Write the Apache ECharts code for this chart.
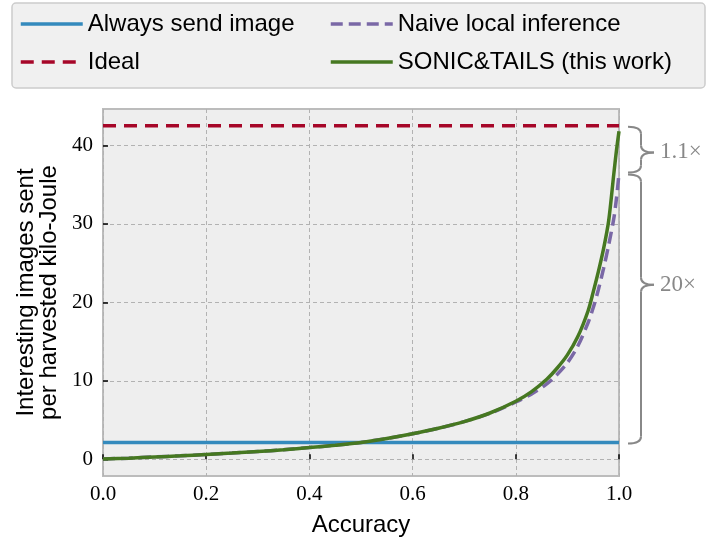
<!DOCTYPE html>
<html>
<head>
<meta charset="utf-8">
<script src="https://cdn.jsdelivr.net/npm/echarts@6/dist/echarts.min.js"></script>
<style>
  html, body { margin: 0; padding: 0; background: #ffffff; }
  #main { width: 710px; height: 543px; }
</style>
</head>
<body>
<div id="main"></div>
<script>
var accuracy = [0, 0.05, 0.1, 0.15, 0.2, 0.25, 0.3, 0.35, 0.4, 0.45, 0.5, 0.55, 0.6, 0.65, 0.7, 0.75, 0.8,
                0.83, 0.86, 0.88, 0.9, 0.92, 0.94, 0.95, 0.96, 0.97, 0.98, 0.99, 0.995, 1.0];
var sonicTails = [0.05, 0.15, 0.3, 0.45, 0.62, 0.8, 1.0, 1.22, 1.5, 1.8, 2.15, 2.65, 3.25, 3.95, 4.8, 5.9, 7.4,
                  8.6, 10.2, 11.6, 13.3, 15.6, 18.9, 21.3, 23.9, 26.8, 30.4, 36.4, 39.3, 41.8];
var naiveLocal = [0.05, 0.15, 0.3, 0.45, 0.62, 0.8, 1.0, 1.22, 1.5, 1.8, 2.15, 2.65, 3.25, 3.95, 4.8, 5.85, 7.3,
                  8.3, 9.6, 10.8, 12.3, 14.4, 17.4, 19.3, 21.6, 24.3, 27.3, 30.7, 33.2, 36.4];
var alwaysSend = 2.13;   // images / kJ, flat
var ideal = 42.5;        // images / kJ, flat
var yTicks = [0, 10, 20, 30, 40];
var xTicks = [0, 0.2, 0.4, 0.6, 0.8, 1.0];

var sansFont = 'Liberation Sans';
var serifFont = 'Liberation Serif';

function pairs(xs, ys) {
	var out = [];
	for (var i = 0; i < xs.length; i++) {
		out.push([xs[i], ys[i]]);
	}
	return out;
}
function flat(v) {
	return [[xTicks[0], v], [xTicks[xTicks.length - 1], v]];
}

var myChart = echarts.init(document.getElementById('main'));

var legendBase = {
	orient: 'vertical',
	top: 7,
	itemWidth: 62, itemHeight: 14, itemGap: 14,
	z: 5,
	itemStyle: { opacity: 0 },
	lineStyle: { width: 3.5 },
	textStyle: { fontFamily: sansFont, fontSize: 24, color: '#000', lineHeight: 24 }
};

var option = {
	animation: false,
	backgroundColor: '#ffffff',
	grid: {
		left: 103, right: 91, top: 109, bottom: 67,
		show: true,
		backgroundColor: '#eeeeee',
		borderColor: '#bcbcbc',
		borderWidth: 2
	},
	legend: [
		Object.assign({ data: ['Always send image', 'Ideal'], left: 14 }, legendBase),
		Object.assign({ data: ['Naive local inference', 'SONIC&TAILS (this work)'], left: 324 }, legendBase)
	],
	xAxis: {
		type: 'value',
		min: 0, max: 1, interval: 0.2,
		name: 'Accuracy',
		nameLocation: 'middle',
		nameGap: 37,
		nameTextStyle: { fontFamily: sansFont, fontSize: 24, color: '#000' },
		axisLine: { show: false },
		axisTick: { show: true, inside: true, length: 5, lineStyle: { color: '#000', width: 1.5 } },
		axisLabel: {
			fontFamily: serifFont, fontSize: 21, color: '#000', margin: 8,
			formatter: function (v) { return v.toFixed(1); }
		},
		splitLine: { show: true, lineStyle: { color: '#b2b2b2', type: [4, 3], width: 1 } }
	},
	yAxis: {
		type: 'value',
		min: -2.125, max: 44.625,
		name: 'Interesting images sent\nper harvested kilo-Joule',
		nameLocation: 'middle',
		nameRotate: 90,
		nameGap: 35,
		nameTextStyle: { fontFamily: sansFont, fontSize: 24, color: '#000', lineHeight: 23 },
		axisLine: { show: false },
		axisTick: { show: true, inside: true, length: 5, customValues: yTicks, lineStyle: { color: '#000', width: 1.5 } },
		axisLabel: { fontFamily: serifFont, fontSize: 21, color: '#000', margin: 10, customValues: yTicks },
		splitLine: { show: true, lineStyle: { color: '#b2b2b2', type: [4, 3], width: 1 } }
	},
	series: [{
		name: 'Always send image',
		type: 'line',
		symbol: 'none',
		data: flat(alwaysSend),
		lineStyle: { color: '#348ABD', width: 3.5 },
		itemStyle: { color: '#348ABD' }
	}, {
		name: 'Ideal',
		type: 'line',
		symbol: 'none',
		data: flat(ideal),
		lineStyle: { color: '#A60628', width: 3.5, type: [13, 8] },
		itemStyle: { color: '#A60628' }
	}, {
		name: 'Naive local inference',
		type: 'line',
		symbol: 'none',
		data: pairs(accuracy, naiveLocal),
		smooth: 0.3,
		lineStyle: { color: '#7A68A6', width: 3.5, type: [12, 6] },
		itemStyle: { color: '#7A68A6' }
	}, {
		name: 'SONIC&TAILS (this work)',
		type: 'line',
		symbol: 'none',
		data: pairs(accuracy, sonicTails),
		smooth: 0.3,
		lineStyle: { color: '#467821', width: 3.5 },
		itemStyle: { color: '#467821' }
	}],
	graphic: [{
		type: 'rect',
		shape: { x: 12, y: 3, width: 693, height: 85, r: 4 },
		style: { fill: '#f0f0f0', stroke: '#cccccc', lineWidth: 1.5 },
		z: 0
	}]
};

myChart.setOption(option);

// curly braces on the right, placed from data values
var braceStyle = { stroke: '#888888', lineWidth: 2, fill: null };
function braceParts(x0, yTop, yBot, ym) {
	var xm = x0 + 13, xt = x0 + 26, r = 7;
	function curve(x1, y1, cx, cy, x2, y2) {
		return { type: 'bezierCurve', shape: { x1: x1, y1: y1, cpx1: cx, cpy1: cy, x2: x2, y2: y2 }, style: braceStyle, z: 10 };
	}
	function seg(x1, y1, x2, y2) {
		return { type: 'line', shape: { x1: x1, y1: y1, x2: x2, y2: y2 }, style: braceStyle, z: 10 };
	}
	return [
		curve(x0, yTop, xm, yTop, xm, yTop + r),
		seg(xm, yTop + r, xm, ym - r),
		curve(xm, ym - r, xm, ym, xt, ym),
		curve(xt, ym, xm, ym, xm, ym + r),
		seg(xm, ym + r, xm, yBot - r),
		curve(xm, yBot - r, xm, yBot, x0, yBot)
	];
}
var pIdeal = myChart.convertToPixel({ gridIndex: 0 }, [1, ideal]);
var pNaive = myChart.convertToPixel({ gridIndex: 0 }, [1, naiveLocal[naiveLocal.length - 1]]);
var pSend = myChart.convertToPixel({ gridIndex: 0 }, [1, alwaysSend]);
var bx = pIdeal[0] + 9;
var braces = [
	{ top: pIdeal[1] + 1, bot: pNaive[1] - 1, tip: 0.56, label: '1.1×' },
	{ top: pNaive[1] + 1, bot: pSend[1] + 1, tip: 0.41, label: '20×' }
];
var extra = option.graphic.slice();
braces.forEach(function (b) {
	var ym = b.top + (b.bot - b.top) * b.tip;
	extra = extra.concat(braceParts(bx, b.top, b.bot, ym));
	extra.push({
		type: 'text',
		x: bx + 32, y: ym,
		style: { text: b.label, font: '23px "' + serifFont + '"', fill: '#888888', verticalAlign: 'middle' },
		z: 10
	});
});
myChart.setOption({ graphic: extra });
</script>
</body>
</html>
